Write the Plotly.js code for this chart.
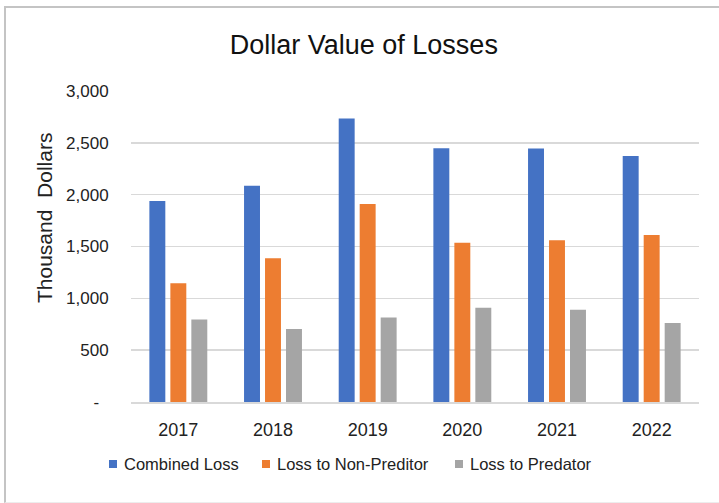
<!DOCTYPE html>
<html>
<head>
<meta charset="utf-8">
<script src="https://cdn.plot.ly/plotly-3.0.1.min.js"></script>
<style>
  html, body { margin: 0; padding: 0; background: #fff; }
  #wrap { position: relative; width: 719px; height: 503px; }
  #chart { width: 719px; height: 503px; }
  #frame { position: absolute; left: 4px; top: 6px; right: -4px; bottom: 0px;
           border-left: 2px solid #C4C4C4; border-top: 2px solid #C4C4C4;
           border-bottom: 1px solid #EDEDED; pointer-events: none; }
</style>
</head>
<body>
<div id="wrap">
  <div id="chart"></div>
  <div id="frame"></div>
</div>
<script>
const years = ['2017', '2018', '2019', '2020', '2021', '2022'];
const seriesNames = ['Combined Loss', 'Loss to Non-Preditor', 'Loss to Predator'];
const combinedLoss = [1938, 2085, 2734, 2448, 2446, 2374];
const lossNonPredator = [1146, 1386, 1909, 1537, 1560, 1611];
const lossPredator = [795, 703, 815, 908, 889, 761];
const yTickVals = [0, 500, 1000, 1500, 2000, 2500, 3000];
const yTickText = ['-\u00a0\u00a0', '500', '1,000', '1,500', '2,000', '2,500', '3,000'];
const colors = ['#4472C4', '#ED7D31', '#A5A5A5'];
const seriesValues = [combinedLoss, lossNonPredator, lossPredator];

const FONT = 'Liberation Sans, Arial, sans-serif';
const L = 131, R = 20, T = 91, B = 101, W = 719, H = 503;
const pw = W - L - R, ph = H - T - B;
const px2x = p => (p - L) / pw;
const py2y = p => (H - B - p) / ph;

const traces = seriesNames.map((name, i) => ({
  type: 'bar',
  name: name,
  x: years,
  y: seriesValues[i],
  marker: { color: colors[i] },
  hoverinfo: 'x+y+name'
}));

// legend built from series names and colours
const legendX = [109, 262, 455];
const legendY = 464;
const shapes = [];
const annotations = [];
seriesNames.forEach((name, i) => {
  shapes.push({
    type: 'rect', xref: 'paper', yref: 'paper',
    x0: px2x(legendX[i]), x1: px2x(legendX[i] + 8),
    y0: py2y(legendY + 4), y1: py2y(legendY - 4),
    fillcolor: colors[i], line: { width: 0 }
  });
  annotations.push({
    xref: 'paper', yref: 'paper', x: px2x(legendX[i] + 13), y: py2y(legendY),
    xanchor: 'left', yanchor: 'middle', showarrow: false,
    text: name, font: { family: FONT, size: 16.5, color: '#222' }
  });
});
annotations.push({
  xref: 'paper', yref: 'paper', x: px2x(44), y: py2y(218),
  xanchor: 'center', yanchor: 'middle', showarrow: false, textangle: -90,
  text: 'Thousand\u00a0\u00a0Dollars', font: { family: FONT, size: 21, color: '#222' }
});

const layout = {
  width: W, height: H,
  margin: { l: L, r: R, t: T, b: B, pad: 0 },
  paper_bgcolor: '#fff', plot_bgcolor: '#fff',
  showlegend: false,
  title: {
    text: 'Dollar Value of Losses',
    font: { family: FONT, size: 27, color: '#111' },
    x: 0.506, xref: 'container', xanchor: 'center',
    y: 1 - 45 / H, yref: 'container', yanchor: 'middle'
  },
  barmode: 'group',
  bargap: 0.335,
  bargroupgap: 0.24,
  xaxis: {
    type: 'category',
    showgrid: false, zeroline: false,
    showline: true, linecolor: '#D9D9D9', linewidth: 1.5,
    ticks: 'outside', ticklen: 11, tickcolor: 'rgba(0,0,0,0)',
    tickfont: { family: FONT, size: 18, color: '#222' }
  },
  yaxis: {
    range: [0, 3000], autorange: false,
    tickvals: yTickVals, ticktext: yTickText,
    showgrid: true, gridcolor: '#D9D9D9', gridwidth: 1.5,
    zeroline: false, showline: false,
    ticks: 'outside', ticklen: 18, tickcolor: 'rgba(0,0,0,0)',
    tickfont: { family: FONT, size: 17, color: '#222' }
  },
  shapes: shapes,
  annotations: annotations
};

Plotly.newPlot('chart', traces, layout, { displayModeBar: false, staticPlot: true });
</script>
</body>
</html>
